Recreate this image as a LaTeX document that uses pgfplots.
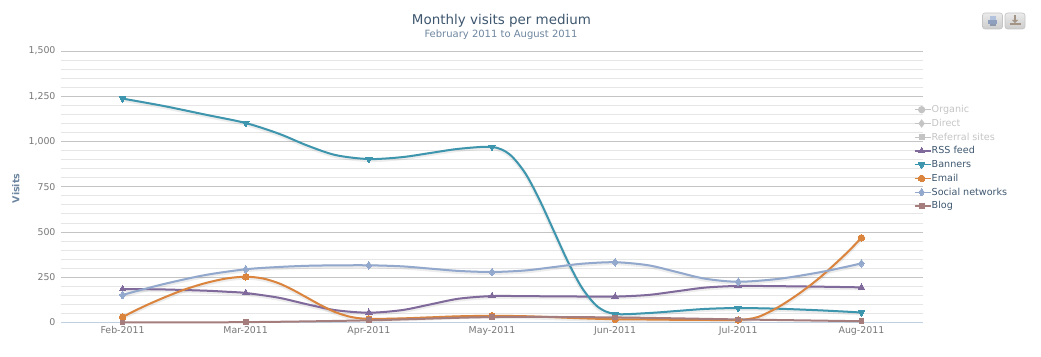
\documentclass[border=0pt]{standalone}
\usepackage{pgfplots}
\usepackage{pgfplotstable}
\pgfplotsset{compat=1.18}
\usepackage{fontspec}
\setmainfont{DejaVu Sans}
\definecolor{ttl}{HTML}{3E576F}
\definecolor{sub}{HTML}{6D869F}
\definecolor{tk}{HTML}{777777}
\definecolor{hid}{HTML}{C4C4C4}
\definecolor{rss}{HTML}{80699B}
\definecolor{ban}{HTML}{3D96AE}
\definecolor{ema}{HTML}{DB843D}
\definecolor{soc}{HTML}{92A8CD}
\definecolor{blg}{HTML}{A47D7C}
\definecolor{axl}{HTML}{C0D0E0}
\definecolor{gmaj}{HTML}{C4C4C4}
\definecolor{gmin}{HTML}{E6E6E6}
% monthly values
\pgfplotstableread{
x y
0 185
1 163
2 54
3 146
4 143
5 202
6 194
}\rssdata
\pgfplotstableread{
x y
0 1237
1 1102
2 903
3 970
4 47
5 80
6 55
}\bandata
\pgfplotstableread{
x y
0 30
1 253
2 20
3 37
4 18
5 14
6 468
}\emadata
\pgfplotstableread{
x y
0 152
1 294
2 316
3 279
4 333
5 225
6 327
}\socdata
\pgfplotstableread{
x y
0 0
1 2
2 12
3 30
4 28
5 17
6 7
}\blgdata
% courses of the curves between the months
\pgfplotstableread{
x y
0 185
0.1 184.7
0.35 182.3
0.675 175.7
0.842 170
1 163
1.269 136.7
1.5 100.3
1.731 67.9
2 54
2.269 68.4
2.5 100
2.731 131.6
3 146
3.269 145.5
3.5 144.5
3.731 143.5
4 143
4.269 152.2
4.5 172.5
4.731 192.8
5 202
5.325 200.7
5.65 198
5.9 195.3
6 194
}\rssline
\pgfplotstableread{
x y
0 1237
0.1 1225
0.35 1194
0.675 1148
1 1102
1.269 1043
1.5 977.7
1.731 924.8
2 903
2.269 913.5
2.5 936.5
2.731 959.5
3 970
3.141 930
3.269 825.8
3.386 677
3.5 508.5
3.614 339.6
3.731 191
3.859 86.7
4 47
4.269 52.1
4.5 63.5
4.731 74.9
5 80
5.325 76.1
5.65 67.5
5.9 59
6 55
}\banline
\pgfplotstableread{
x y
0 30
0.1 65
0.211 100.7
0.35 141.5
0.507 183
0.675 218
0.842 243
1 253
1.141 243
1.269 216.6
1.386 179.1
1.5 136.5
1.614 93.9
1.731 56.4
1.859 30
2 20
2.269 22.7
2.5 28.5
2.731 34.3
3 37
3.269 34.7
3.5 29.3
3.731 23
4 18
4.269 16.5
4.5 14.8
4.731 14
5 14
5.158 30
5.325 85
5.49 158
5.65 241
5.787 324
5.9 397
6 468
}\emaline
\pgfplotstableread{
x y
0 152
0.1 171
0.35 214.8
0.675 262.6
1 294
1.269 306.7
1.5 313.3
1.731 315.7
2 316
2.269 310.2
2.5 297.5
2.731 284.8
3 279
3.269 287.4
3.5 306
3.731 324.6
4 333
4.269 316.1
4.5 279
4.731 241.9
5 225
5.325 240.9
5.65 276
5.9 311.1
6 327
}\socline
\pgfplotsset{
  mrss/.style={mark=triangle*,mark size=3.8pt,mark options={solid,fill=rss,draw=rss,line width=0pt}},
  mban/.style={mark=triangle*,mark size=3.8pt,mark options={solid,fill=ban,draw=ban,line width=0pt,rotate=180}},
  mema/.style={mark=*,mark size=3.3pt,mark options={solid,fill=ema,draw=ema,line width=0pt}},
  msoc/.style={mark=diamond*,mark size=3.8pt,mark options={solid,fill=soc,draw=soc,line width=0pt}},
  mblg/.style={mark=square*,mark size=2.4pt,mark options={solid,fill=blg,draw=blg,line width=0pt}},
  sline/.style={forget plot,no markers,smooth,tension=0.5,line width=2pt},
  shad/.style={forget plot,no markers,smooth,tension=0.5,line width=4pt,black,opacity=0.07,yshift=-1pt},
  pts/.style={forget plot,only marks},
}
\begin{document}
\begin{tikzpicture}[x=1pt,y=1pt]
\useasboundingbox (0,0) rectangle (1041,356);
\node[font=\fontsize{13.45pt}{15pt}\selectfont,text=ttl,inner sep=0pt] at (501.5,335.5) {Monthly visits per medium};
\node[font=\fontsize{10pt}{11pt}\selectfont,text=sub,inner sep=0pt] at (501,321.7) {February 2011 to August 2011};
\begin{axis}[
  at={(61pt,33.5pt)},anchor=south west,
  scale only axis,width=862pt,height=271.5pt,
  xmin=-0.5,xmax=6.5,ymin=0,ymax=1500,
  clip=false,
  axis x line*=bottom,axis y line*=left,
  axis line style={-},
  x axis line style={draw=axl},
  y axis line style={draw=none},
  xtick={0,1,2,3,4,5,6},
  xticklabels={Feb-2011,Mar-2011,Apr-2011,May-2011,Jun-2011,Jul-2011,Aug-2011},
  ytick={0,250,500,750,1000,1250,1500},
  minor y tick num=4,
  ymajorgrids,yminorgrids,
  major grid style={draw=gmaj,line width=0.8pt},
  minor grid style={draw=gmin,line width=0.8pt},
  xtick style={draw=none},ytick style={draw=none},
  minor tick length=0pt,
  extra x ticks={-0.5,0.5,1.5,2.5,3.5,4.5,5.5,6.5},
  extra x tick labels={},
  extra x tick style={major tick length=5pt,tick align=outside,tick style={draw=axl,line width=0.8pt}},
  tick label style={font=\fontsize{9.4pt}{11pt}\selectfont,text=tk},
  yticklabel style={xshift=-2pt},
  /pgf/number format/assume math mode=true,
  /pgf/number format/1000 sep={,},
  scaled y ticks=false,
  ylabel={Visits},
  ylabel style={font=\fontsize{9.5pt}{11pt}\selectfont\bfseries,text=sub,at={(axis description cs:-0.0525,0.494)},anchor=center,inner sep=0pt},
  legend cell align=left,
  legend image code/.code={\draw[mark repeat=2,mark phase=2,#1] plot coordinates {(0pt,0pt)(7pt,0pt)(14pt,0pt)};\path (14pt,0pt) -- (16.5pt,0pt);},
  legend style={at={(914pt-61pt,356pt-105.3pt-33.5pt)},anchor=north west,draw=none,fill=none,inner sep=0pt,outer sep=0pt,
    font=\fontsize{9.6pt}{11pt}\selectfont,text=ttl,row sep=5pt,
    nodes={inner sep=0pt,outer sep=0pt}},
]
\addlegendimage{hid,line width=1.2pt,mark=*,mark size=3pt,mark options={solid,fill=hid,draw=hid}}
\addlegendentry{\textcolor{hid}{Organic}}
\addlegendimage{hid,line width=1.2pt,mark=diamond*,mark size=3.3pt,mark options={solid,fill=hid,draw=hid}}
\addlegendentry{\textcolor{hid}{Direct}}
\addlegendimage{hid,line width=1.2pt,mark=square*,mark size=2.4pt,mark options={solid,fill=hid,draw=hid}}
\addlegendentry{\textcolor{hid}{Referral sites}}
\addlegendimage{rss,line width=1.2pt,mrss}
\addlegendentry{RSS feed}
\addlegendimage{ban,line width=1.2pt,mban}
\addlegendentry{Banners}
\addlegendimage{ema,line width=1.2pt,mema}
\addlegendentry{Email}
\addlegendimage{soc,line width=1.2pt,msoc}
\addlegendentry{Social networks}
\addlegendimage{blg,line width=1.2pt,mblg}
\addlegendentry{Blog}
% soft shadows
\addplot[shad] table {\rssline};
\addplot[shad] table {\banline};
\addplot[shad] table {\emaline};
\addplot[shad] table {\socline};
% lines and marks
\addplot[sline,rss] table {\rssline};
\addplot[pts,mrss] table {\rssdata};
\addplot[sline,ban] table {\banline};
\addplot[pts,mban] table {\bandata};
\addplot[sline,ema] table {\emaline};
\addplot[pts,mema] table {\emadata};
\addplot[sline,soc] table {\socline};
\addplot[pts,msoc] table {\socdata};
\addplot[sline,blg] table {\blgdata};
\addplot[pts,mblg] table {\blgdata};
\end{axis}
% export buttons
\begin{scope}
\draw[draw=gmaj,top color=white!92!black,bottom color=white!80!black,rounded corners=2.5pt,line width=0.6pt] (982.5,327) rectangle (1002.5,343);
\draw[draw=gmaj,top color=white!92!black,bottom color=white!80!black,rounded corners=2.5pt,line width=0.6pt] (1005,327) rectangle (1025,343);
\fill[fill=soc!80!gray] (988,332) rectangle (997,335.5);
\fill[fill=soc!70!white] (989.5,335.5) rectangle (995.5,340);
\fill[fill=soc!60!gray] (989.5,330) rectangle (995.5,332);
\fill[fill=tk!70!brown!80!white] (1009.5,331) rectangle (1020.5,333);
\fill[fill=tk!70!brown!80!white] (1013.8,336) rectangle (1016.2,340.5);
\fill[fill=tk!70!brown!80!white] (1012,336) -- (1018,336) -- (1015,332.8) -- cycle;
\end{scope}
\end{tikzpicture}
\end{document}
